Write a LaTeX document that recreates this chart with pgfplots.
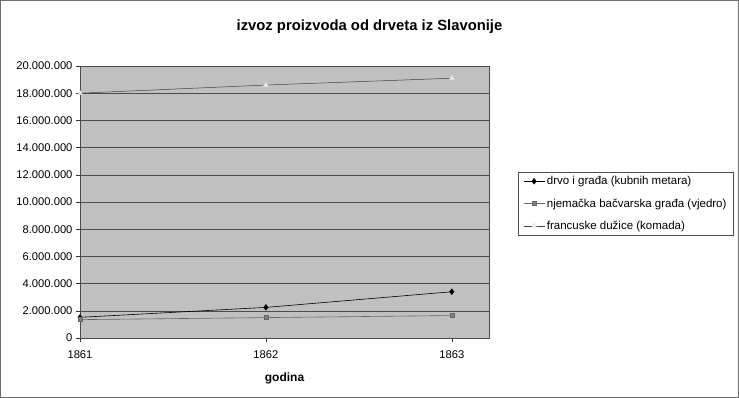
\documentclass[border=0pt]{standalone}
\usepackage{pgfplots}
\pgfplotsset{compat=1.18}
\usepackage{fontspec}
\setmainfont{Liberation Sans}
\definecolor{plotbg}{RGB}{192,192,192}
\definecolor{frame}{RGB}{110,110,110}
\begin{document}
\begin{tikzpicture}[x=1pt,y=1pt]
\fill[white] (-80,-60) rectangle (659,338);
\draw[frame, line width=1.4pt] (-79.3,-59.3) rectangle (658.3,337.3);
\begin{axis}[
  at={(0,0)}, anchor=south west,
  scale only axis, width=409pt, height=272pt,
  xmin=0, xmax=2.2, ymin=0, ymax=20000000,
  xtick={0,1,2}, xticklabels={1861,1862,1863},
  ytick={0,2000000,4000000,6000000,8000000,10000000,12000000,14000000,16000000,18000000,20000000},
  scaled y ticks=false,
  yticklabel style={/pgf/number format/.cd, fixed, 1000 sep={.}, assume math mode=true},
  xticklabel style={/pgf/number format/assume math mode=true, yshift=-5pt},
  axis background/.style={fill=plotbg},
  ymajorgrids, grid style={black!70, line width=0.5pt},
  axis line style={black!70, line width=0.6pt},
  tick align=outside, major tick length=4pt,
  tick style={black!80, line width=0.5pt},
  tick pos=left,
  ticklabel style={font=\fontsize{11.2}{13}\selectfont},
  xlabel={godina},
  xlabel style={font=\fontsize{12}{14}\selectfont\bfseries, at={(axis description cs:0.5,-0.147)}, anchor=center},
  legend style={at={(rel axis cs:1.071,0.61)}, anchor=north west, draw=black!70, line width=0.5pt, fill=white,
    font=\fontsize{11.5}{13}\selectfont, row sep=8.5pt, inner xsep=5pt, inner ysep=2pt},
  legend image code/.code={%
    \draw[mark repeat=2,mark phase=2] plot coordinates {(0pt,0pt) (10.5pt,0pt) (21pt,0pt)};},
  legend cell align=left,
]
\addplot[black, line width=0.6pt, mark=diamond*, mark size=2.8pt, mark options={fill=black}]
  coordinates {(0,1520000) (1,2250000) (2,3400000)};
\addlegendentry{drvo i građa (kubnih metara)}
\addplot[gray!80!black, line width=0.6pt, mark=square*, mark size=2pt, mark options={fill=gray, draw=gray!80!black}]
  coordinates {(0,1350000) (1,1500000) (2,1650000)};
\addlegendentry{njemačka bačvarska građa (vjedro)}
\addplot[gray!50!black, line width=0.5pt, mark=triangle*, mark size=2.8pt, mark options={fill=gray!15, draw=gray!25}]
  coordinates {(0,18000000) (1,18600000) (2,19100000)};
\addlegendentry{francuske dužice (komada)}
\end{axis}
\node[font=\fontsize{14.8}{17}\selectfont\bfseries] at (289.5,311) {izvoz proizvoda od drveta iz Slavonije};
\end{tikzpicture}
\end{document}
